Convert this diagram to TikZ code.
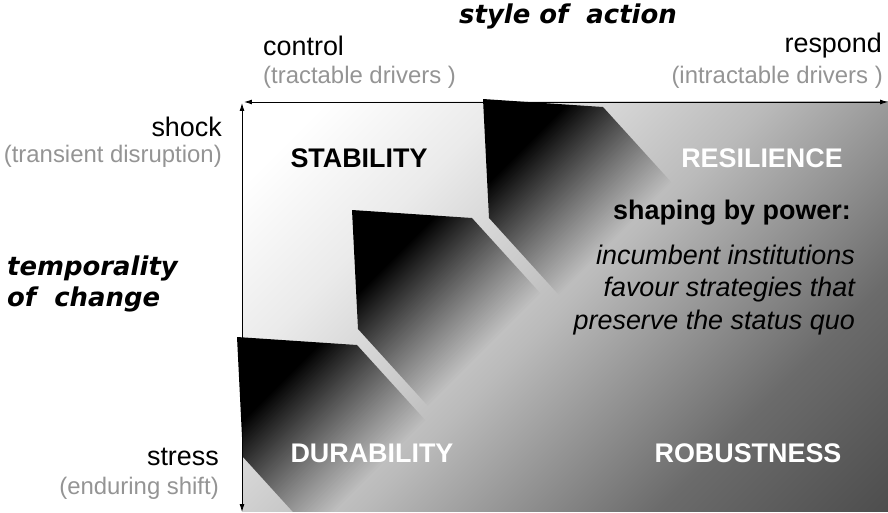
\documentclass[tikz,border=0pt]{standalone}
\usepackage{fontspec}
\setmainfont{Liberation Sans}
\newfontfamily\headfont{DejaVu Sans}
\usetikzlibrary{calc,arrows.meta,fadings}

% grey ramp of the field, white at the upper left
\pgfdeclarehorizontalshading{fieldshade}{100bp}{color(0bp)=(white); color(20bp)=(white); color(32bp)=(black!8); color(50bp)=(black!27); color(70bp)=(black!58); color(86bp)=(black!70); color(100bp)=(black!70)}
% fading of the steps, opaque on the left, clear on the right
\tikzfading[name=stepfade, left color=transparent!0, right color=transparent!100]

\tikzset{
	axislabel/.style={font=\fontsize{27}{30}\selectfont, inner sep=0pt},
	sublabel/.style={font=\fontsize{24}{27}\selectfont, text=black!42, inner sep=0pt},
	heading/.style={font=\headfont\bfseries\itshape\fontsize{26}{31}\selectfont, inner sep=0pt, align=left},
	quadrant/.style={font=\fontsize{27}{30}\selectfont\bfseries, inner sep=0pt},
	steppath/.style={fill=black, path fading=stepfade, fit fading=false},
}

\begin{document}
\begin{tikzpicture}[>={Latex[length=8pt,width=5pt]}, x=1bp, y=-1bp]
	\useasboundingbox (0,0) rectangle (888,513);

	% define the corners of the shaded field
	\coordinate (TL) at (242,102);
	\coordinate (BR) at (888,511);

	% shade the field from white to dark grey
	\shade[shading=fieldshade, shading angle=-45] (TL) rectangle (BR);

	% draw the three steps, each one fading to the lower right
	\begin{scope}
		\clip (230,95) rectangle (BR);
		\foreach \ax/\ay/\bx/\by/\cx/\cy in {483/99/603/107/489/218, 352/210/472/218/358/329, 237/337/357/345/243/457}{
			\coordinate (A) at (\ax,\ay);
			\coordinate (B) at (\bx,\by);
			\coordinate (C) at (\cx,\cy);
			\fill[steppath, fading transform={shift={($(A)+(90,90)$)}, rotate=-45, scale=2.6}]
				(A) -- (B) -- ($(B)+(109,120)$) -- ($(C)+(109,120)$) -- (C) -- cycle;
		}
	\end{scope}

	% define the ends of both axes
	\coordinate (XL) at (244,102);
	\coordinate (XR) at (888,102);
	\coordinate (YT) at (242,103);
	\coordinate (YB) at (242,512);

	% draw the style and temporality axes
	\draw[<->, line width=0.9bp] (XL) -- (XR);
	\draw[<->, line width=0.9bp] (YT) -- (YB);

	% label the top axis
	\node[heading] (action) at (568,16) {style of\ \ action};
	\node[axislabel, anchor=west] (control) at (263,46) {control};
	\node[sublabel, anchor=west] (tractable) at (263,77) {(tractable drivers )};
	\node[axislabel, anchor=east] (respond) at (882,46) {respond};
	\node[sublabel, anchor=east] (intractable) at (883,77) {(intractable drivers )};

	% label the left axis
	\node[axislabel, anchor=east] (shock) at (222,127) {shock};
	\node[sublabel, anchor=east] (transient) at (222,156) {(transient disruption)};
	\node[heading, anchor=west] (temporality) at (7,284) {temporality\\of\ \ change};
	\node[axislabel, anchor=east] (stress) at (219,457) {stress};
	\node[sublabel, anchor=east] (enduring) at (219,488) {(enduring shift)};

	% the four quadrants
	\node[quadrant] (stability) at (359,158) {STABILITY};
	\node[quadrant, text=white] (resilience) at (762,158) {RESILIENCE};
	\node[quadrant, text=white] (durability) at (372,453) {DURABILITY};
	\node[quadrant, text=white] (robustness) at (748,453) {ROBUSTNESS};

	% the note on power
	\node[quadrant, anchor=east] (power) at (851,213) {shaping by power:};
	\node[font=\fontsize{27}{33}\selectfont\itshape, align=right, anchor=east, inner sep=0pt] (incumbent) at (855,290)
		{incumbent institutions\\favour strategies that\\preserve the status quo};
\end{tikzpicture}
\end{document}
